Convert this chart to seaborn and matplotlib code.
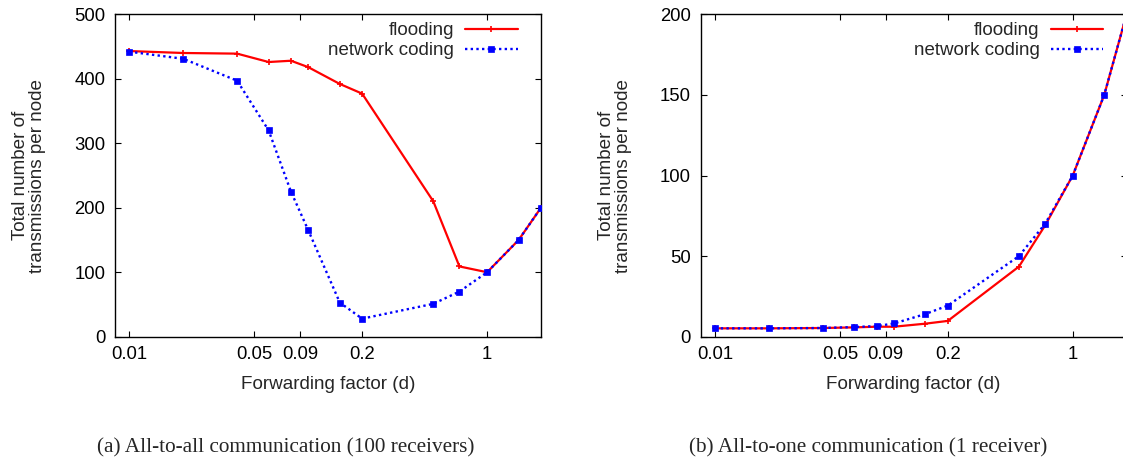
import numpy as np
import pandas as pd
import matplotlib
matplotlib.use("Agg")
import matplotlib.pyplot as plt
import seaborn as sns

# forwarding factor values (same for both panels)
fwd = [0.01, 0.02, 0.04, 0.06, 0.08, 0.1, 0.15, 0.2, 0.5, 0.7, 1, 1.5, 2]

# (a) all-to-all, 100 receivers
a_flooding = [443, 440, 439, 426, 428, 418, 392, 377, 210, 109, 100, 150, 200]
a_netcoding = [442, 431, 397, 320, 225, 165, 53, 28, 51, 70, 100, 150, 200]

# (b) all-to-one, 1 receiver
b_flooding = [5.2, 5.2, 5.4, 5.8, 6.2, 6.2, 8.1, 9.8, 43.5, 69, 100, 150, 200]
b_netcoding = [5.2, 5.2, 5.4, 6.0, 6.6, 8.2, 14.1, 19.3, 50, 70, 100, 150, 200]

xticks = [0.01, 0.05, 0.09, 0.2, 1]
xtick_labels = ["0.01", "0.05", "0.09", "0.2", "1"]
captions = ["(a) All-to-all communication (100 receivers)",
            "(b) All-to-one communication (1 receiver)"]

sns.set_theme(style="ticks")
plt.rcParams["font.family"] = ["Liberation Sans", "DejaVu Sans"]
plt.rcParams["font.size"] = 13.5

fig = plt.figure(figsize=(11.23, 4.57), dpi=100)
ax_a = fig.add_axes([0.1024, 0.2632, 0.3793, 0.7055])
ax_b = fig.add_axes([0.6239, 0.2632, 0.3793, 0.7055])

panels = [
    (ax_a, a_flooding, a_netcoding, 500, 100),
    (ax_b, b_flooding, b_netcoding, 200, 50),
]

for ax, flood, nc, ymax, ystep in panels:
    df = pd.DataFrame({"d": fwd, "flooding": flood, "network coding": nc})
    ax.set_xscale("log")
    sns.lineplot(data=df, x="d", y="flooding", ax=ax, color="#ff0000",
                 lw=1.6, marker="+", markersize=5, mec="#ff0000", mew=1.2,
                 label="flooding", sort=False, zorder=3)
    sns.lineplot(data=df, x="d", y="network coding", ax=ax, color="#0000ff",
                 lw=1.7, linestyle=(0, (1, 1.4)), marker="s", markersize=4.5,
                 mec="#0000ff", mfc="#0000ff", mew=0.5,
                 label="network coding", sort=False, zorder=4)

    ax.set_xlim(0.0083, 2.0)
    ax.set_ylim(0, ymax)
    ax.set_xticks(xticks)
    ax.set_xticklabels(xtick_labels)
    ax.xaxis.set_minor_locator(matplotlib.ticker.NullLocator())
    ax.set_yticks(np.arange(0, ymax + 1, ystep))
    ax.tick_params(axis="both", which="major", direction="in", length=4.5,
                   width=0.8, top=True, right=True, labelsize=13.3, pad=7,
                   colors="black")
    for sp in ax.spines.values():
        sp.set_linewidth(1.0)
        sp.set_color("black")

    ax.set_xlabel("Forwarding factor (d)", fontsize=13.6, labelpad=9)
    ax.set_ylabel("Total number of\ntransmissions per node", fontsize=13.6,
                  labelpad=20, linespacing=1.0)

    ax.legend(loc="upper right", bbox_to_anchor=(0.945, 0.976),
              frameon=False, markerfirst=False, fontsize=13.5,
              handlelength=2.8, handletextpad=0.6, labelspacing=0.16,
              borderpad=0, borderaxespad=0)

fig.text(0.254, 0.009, captions[0], ha="center", va="baseline",
         fontsize=15.3, family=["Liberation Serif", "DejaVu Serif"])
fig.text(0.773, 0.009, captions[1], ha="center", va="baseline",
         fontsize=15.3, family=["Liberation Serif", "DejaVu Serif"])

fig.savefig("out.png", dpi=100)
